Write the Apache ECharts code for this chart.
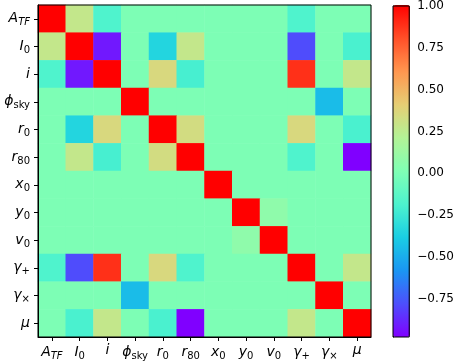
<!DOCTYPE html>
<html>
<head>
<meta charset="utf-8">
<script src="https://cdn.jsdelivr.net/npm/echarts@6/dist/echarts.min.js"></script>
<style>
  html, body { margin: 0; padding: 0; background: #fff; }
  #chart { width: 457px; height: 363px; }
</style>
</head>
<body>
<div id="chart"></div>
<script>
  // parameter names, "base_sub" (sub after the underscore)
  const params = ['A_TF', 'I_0', 'i', 'ϕ_sky', 'r_0', 'r_80', 'x_0', 'y_0', 'v_0', 'γ_+', 'γ_×', 'μ'];

  // correlation matrix, one row per parameter
  const rowATF = [1, 0.27, -0.18, 0, 0, 0, 0, 0, 0, -0.18, 0, 0];
  const rowI0  = [0.27, 1, -0.92, 0, -0.35, 0.27, 0, 0, 0, -0.79, 0, -0.2];
  const rowI   = [-0.18, -0.92, 1, 0, 0.35, -0.21, 0, 0, 0, 0.88, 0, 0.27];
  const rowPhi = [0, 0, 0, 1, 0, 0, 0, 0, 0, 0, -0.45, 0];
  const rowR0  = [0, -0.35, 0.35, 0, 1, 0.33, 0, 0, 0, 0.35, 0, -0.2];
  const rowR80 = [0, 0.27, -0.21, 0, 0.33, 1, 0, 0, 0, -0.18, 0, -0.98];
  const rowX0  = [0, 0, 0, 0, 0, 0, 1, 0, 0, 0, 0, 0];
  const rowY0  = [0, 0, 0, 0, 0, 0, 0, 1, 0.07, 0, 0, 0];
  const rowV0  = [0, 0, 0, 0, 0, 0, 0, 0.07, 1, 0, 0, 0];
  const rowGp  = [-0.18, -0.79, 0.88, 0, 0.35, -0.18, 0, 0, 0, 1, 0, 0.27];
  const rowGx  = [0, 0, 0, -0.45, 0, 0, 0, 0, 0, 0, 1, 0];
  const rowMu  = [0, -0.2, 0.27, 0, -0.2, -0.98, 0, 0, 0, 0.27, 0, 1];
  const rows = [rowATF, rowI0, rowI, rowPhi, rowR0, rowR80, rowX0, rowY0, rowV0, rowGp, rowGx, rowMu];

  const cbMin = -0.98, cbMax = 1;
  const cbTicks = [-0.75, -0.5, -0.25, 0, 0.25, 0.5, 0.75, 1];

  // matplotlib "rainbow" sampled at 0, 0.1 ... 1
  const rainbow = ['#8000ff', '#4d4ffc', '#1a96f3', '#1acee3', '#4df3ce', '#80ffb4',
                   '#b3f396', '#e6ce74', '#ff964f', '#ff4f28', '#ff0000'];

  const data = [];
  rows.forEach(function (row, r) {
    row.forEach(function (v, c) { data.push([c, r, v]); });
  });

  function mathLabel(name) {
    const parts = name.split('_');
    let s = '{it|' + parts[0] + '}';
    if (parts[1]) s += (parts[1] === 'TF' ? '{sbi|' : '{sb|') + parts[1] + '}';
    return s;
  }

  const rich = {
    it: { fontFamily: 'DejaVu Sans', fontStyle: 'italic', fontSize: 14, color: '#000' },
    sb: { fontFamily: 'DejaVu Sans', fontSize: 10, color: '#000', padding: [8, 0, 0, 0] },
    sbi: { fontFamily: 'DejaVu Sans', fontStyle: 'italic', fontSize: 10, color: '#000', padding: [8, 0, 0, 0] }
  };

  const catAxis = {
    type: 'category',
    data: params,
    gridIndex: 0,
    z: 12,
    axisLine: { show: true, lineStyle: { color: '#000', width: 1 } },
    axisTick: { show: true, interval: 0, alignWithLabel: true, length: 4, lineStyle: { color: '#000', width: 1 } },
    axisLabel: { interval: 0, formatter: mathLabel, rich: rich },
    splitLine: { show: false }
  };

  const chart = echarts.init(document.getElementById('chart'));
  chart.setOption({
    animation: false,
    backgroundColor: '#fff',
    grid: [
      { left: 38, top: 5, width: 333, height: 332, show: true, z: 10,
        borderColor: '#000', borderWidth: 1, backgroundColor: 'transparent' },
      { left: 393, top: 5, width: 17, height: 332, show: true, z: 10,
        borderColor: '#000', borderWidth: 1, backgroundColor: 'transparent' }
    ],
    xAxis: [
      Object.assign({}, catAxis, {
        position: 'bottom',
        axisLabel: Object.assign({}, catAxis.axisLabel, { margin: 6 })
      }),
      { type: 'value', gridIndex: 1, show: false, min: 0, max: 1 }
    ],
    yAxis: [
      Object.assign({}, catAxis, {
        inverse: true,
        position: 'left',
        axisLabel: Object.assign({}, catAxis.axisLabel, { margin: 8 })
      }),
      {
        type: 'value', gridIndex: 1, position: 'right', min: cbMin, max: cbMax,
        axisLine: { show: true, lineStyle: { color: '#000', width: 1 } },
        splitLine: { show: false },
        axisTick: { show: true, length: 4, customValues: cbTicks, lineStyle: { color: '#000' } },
        axisLabel: {
          customValues: cbTicks, margin: 8, color: '#000', fontFamily: 'DejaVu Sans', fontSize: 12,
          formatter: function (v) { return v.toFixed(2).replace('-', '\u2212'); }
        }
      }
    ],
    visualMap: {
      type: 'continuous',
      seriesIndex: 0,
      min: cbMin,
      max: cbMax,
      calculable: false,
      hoverLink: false,
      orient: 'vertical',
      left: 393,
      top: 5,
      padding: 0,
      itemWidth: 17,
      itemHeight: 332,
      text: null,
      showLabel: false,
      inRange: { color: rainbow }
    },
    series: [{
      type: 'heatmap',
      xAxisIndex: 0,
      yAxisIndex: 0,
      data: data,
      itemStyle: { borderWidth: 0 },
      emphasis: { disabled: true }
    }]
  });
</script>
</body>
</html>
